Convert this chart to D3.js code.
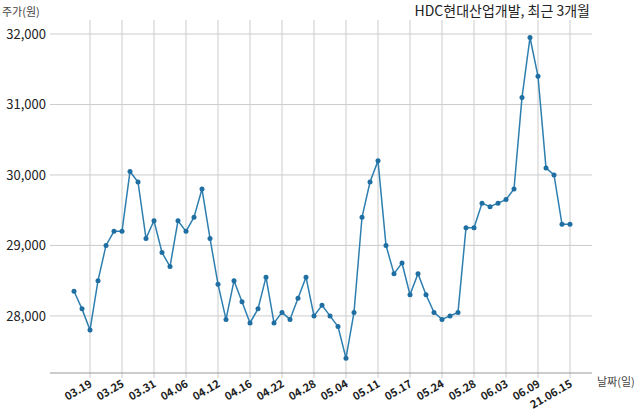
<!DOCTYPE html><html><head><meta charset="utf-8"><script src="https://cdn.jsdelivr.net/npm/d3@7"></script>
<style>body{margin:0;background:#fff;font-family:"Noto Sans CJK KR","Noto Sans",sans-serif}</style></head><body><svg id="c" width="640" height="414"></svg><script>
const values=[28350,28100,27800,28500,29000,29200,29200,30050,29900,29100,29350,28900,28700,29350,29200,29400,29800,29100,28450,27950,28500,28200,27900,28100,28550,27900,28050,27950,28250,28550,28000,28150,28000,27850,27400,28050,29400,29900,30200,29000,28600,28750,28300,28600,28300,28050,27950,28000,28050,29250,29250,29600,29550,29600,29650,29800,31100,31950,31400,30100,30000,29300,29300];
const tickIdx=[2,6,10,14,18,22,26,30,34,38,42,46,50,54,58,62];
const tickLabels=["03.19","03.25","03.31","04.06","04.12","04.16","04.22","04.28","05.04","05.11","05.17","05.24","05.28","06.03","06.09","21.06.15"];
const yTicks=[28000,29000,30000,31000,32000];
const svg=d3.select("#c");
const x=d3.scaleLinear().domain([0,62]).range([74,570]);
const y=d3.scaleLinear().domain([27190,32000]).range([373,34]);
const L=50,R=592;
svg.append("g").selectAll("line").data(yTicks).join("line").attr("x1",L).attr("x2",R).attr("y1",d=>y(d)).attr("y2",d=>y(d)).attr("stroke","#ccc");
svg.append("g").selectAll("line").data(tickIdx).join("line").attr("x1",d=>x(d)).attr("x2",d=>x(d)).attr("y1",20).attr("y2",378).attr("stroke","#ccc");
svg.append("line").attr("x1",L).attr("x2",R).attr("y1",373).attr("y2",373).attr("stroke","#999");
svg.append("g").selectAll("text").data(yTicks).join("text").attr("x",46).attr("y",d=>y(d)+5).attr("text-anchor","end").attr("font-size",13).attr("fill","#222").text(d=>d3.format(",")(d));
svg.append("g").selectAll("text").data(tickIdx).join("text").attr("transform",(d,i)=>`translate(${x(d)+3},${386}) rotate(-30)`).attr("text-anchor","end").attr("font-size",11).attr("font-weight","bold").attr("fill","#222").text((d,i)=>tickLabels[i]);
svg.append("path").datum(values).attr("fill","none").attr("stroke","#2e7fb0").attr("stroke-width",1.5).attr("d",d3.line().x((d,i)=>x(i)).y(d=>y(d)));
svg.append("g").selectAll("circle").data(values).join("circle").attr("cx",(d,i)=>x(i)).attr("cy",d=>y(d)).attr("r",2.5).attr("fill","#1f6fa3");
svg.append("text").attr("x",590).attr("y",16).attr("text-anchor","end").attr("font-size",14).attr("fill","#222").text("HDC현대산업개발, 최근 3개월");
svg.append("text").attr("x",2).attr("y",16).attr("font-size",11).attr("fill","#444").text("주가(원)");
svg.append("text").attr("x",597).attr("y",386).attr("font-size",11).attr("fill","#444").text("날짜(일)");
</script></body></html>
